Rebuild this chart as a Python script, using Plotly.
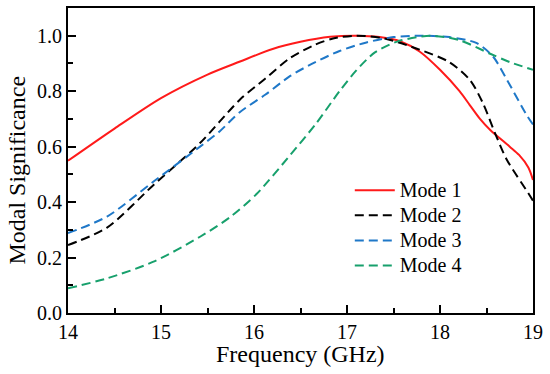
import plotly.graph_objects as go

# Mode 1
x1 = [14, 14.5, 15, 15.5, 15.85, 16.2, 16.5, 16.82, 17.1, 17.35, 17.57, 17.78, 18.0, 18.21, 18.32, 18.43, 18.54, 18.75, 18.85, 18.95, 19]
y1 = [0.549, 0.665, 0.775, 0.86, 0.907, 0.952, 0.978, 0.996, 1.0, 0.995, 0.98, 0.943, 0.877, 0.80, 0.75, 0.70, 0.66, 0.60, 0.57, 0.525, 0.48]
# Mode 2
x2 = [14, 14.42, 14.92, 15.42, 15.63, 15.85, 16.12, 16.39, 16.66, 16.85, 17.1, 17.4, 17.78, 18.1, 18.32, 18.46, 18.59, 18.72, 18.95, 19]
y2 = [0.245, 0.308, 0.462, 0.613, 0.69, 0.77, 0.845, 0.92, 0.968, 0.99, 1.0, 0.99, 0.95, 0.905, 0.841, 0.758, 0.65, 0.552, 0.432, 0.405]
# Mode 3
x3 = [14, 14.42, 14.92, 15.42, 15.63, 15.85, 16.12, 16.39, 16.66, 16.92, 17.2, 17.5, 17.8, 18.1, 18.39, 18.57, 18.72, 18.93, 19]
y3 = [0.288, 0.348, 0.474, 0.60, 0.655, 0.725, 0.787, 0.855, 0.905, 0.945, 0.975, 0.995, 1.0, 0.995, 0.974, 0.925, 0.841, 0.715, 0.68]
# Mode 4
x4 = [14, 14.42, 14.92, 15.42, 15.74, 16.03, 16.39, 16.66, 16.92, 17.1, 17.3, 17.55, 17.9, 18.2, 18.54, 18.75, 19]
y4 = [0.089, 0.125, 0.185, 0.275, 0.345, 0.43, 0.57, 0.68, 0.8, 0.875, 0.94, 0.98, 1.0, 0.985, 0.935, 0.905, 0.877]

names = ["Mode 1", "Mode 2", "Mode 3", "Mode 4"]
xtick_vals = [14, 15, 16, 17, 18, 19]
ytick_vals = [0.0, 0.2, 0.4, 0.6, 0.8, 1.0]

font = "Liberation Serif"

fig = go.Figure()
styles = [
    dict(color="#ff1a1a", width=2, dash="solid"),
    dict(color="#000000", width=2, dash="9px,5px"),
    dict(color="#1f78c8", width=2, dash="9px,5px"),
    dict(color="#17a06c", width=2, dash="9px,5px"),
]
for xs, ys, nm, st in zip([x1, x2, x3, x4], [y1, y2, y3, y4], names, styles):
    fig.add_trace(go.Scatter(x=xs, y=ys, name=f'<span style="font-size:20px">{nm}</span>',
                             mode="lines",
                             line=dict(shape="spline", smoothing=0.8, **st)))

axis_common = dict(
    showline=True, linecolor="black", linewidth=2, mirror=True,
    ticks="inside", ticklen=8, tickwidth=2, tickcolor="black",
    showgrid=False, zeroline=False, automargin=False,
    tickfont=dict(family=font, size=20, color="black"),
    minor=dict(ticks="inside", ticklen=5, tickwidth=2, tickcolor="black", showgrid=False),
)

fig.update_xaxes(range=[14, 19], tickvals=xtick_vals, ticktext=[str(v) for v in xtick_vals],
                 minor_dtick=0.5, minor_tick0=14, **axis_common)
fig.update_yaxes(range=[0, 1.1], tickvals=ytick_vals, ticktext=[f"{v:.1f}" for v in ytick_vals],
                 minor_dtick=0.1, minor_tick0=0, **axis_common)

title_font = dict(family=font, size=24, color="black")
fig.add_annotation(text="Frequency (GHz)", xref="paper", yref="paper", x=0.5, y=0,
                   xanchor="center", yanchor="middle", yshift=-41, showarrow=False, font=title_font)
fig.add_annotation(text="Modal Significance", xref="paper", yref="paper", x=0, y=0.467,
                   xanchor="center", yanchor="middle", xshift=-51, textangle=-90,
                   showarrow=False, font=title_font)

fig.update_layout(
    width=550, height=374,
    margin=dict(l=68, r=17, t=8, b=61),
    paper_bgcolor="white", plot_bgcolor="white",
    font=dict(family=font, color="black"),
    legend=dict(x=0.606, y=0.46, xanchor="left", yanchor="top",
                bgcolor="rgba(0,0,0,0)", font=dict(family=font, size=17, color="black"),
                tracegroupgap=0, itemwidth=40),
    showlegend=True,
)

fig.write_html("out.html", config={"displayModeBar": False},
               post_script="document.body.style.margin='0';document.body.style.padding='0';")
